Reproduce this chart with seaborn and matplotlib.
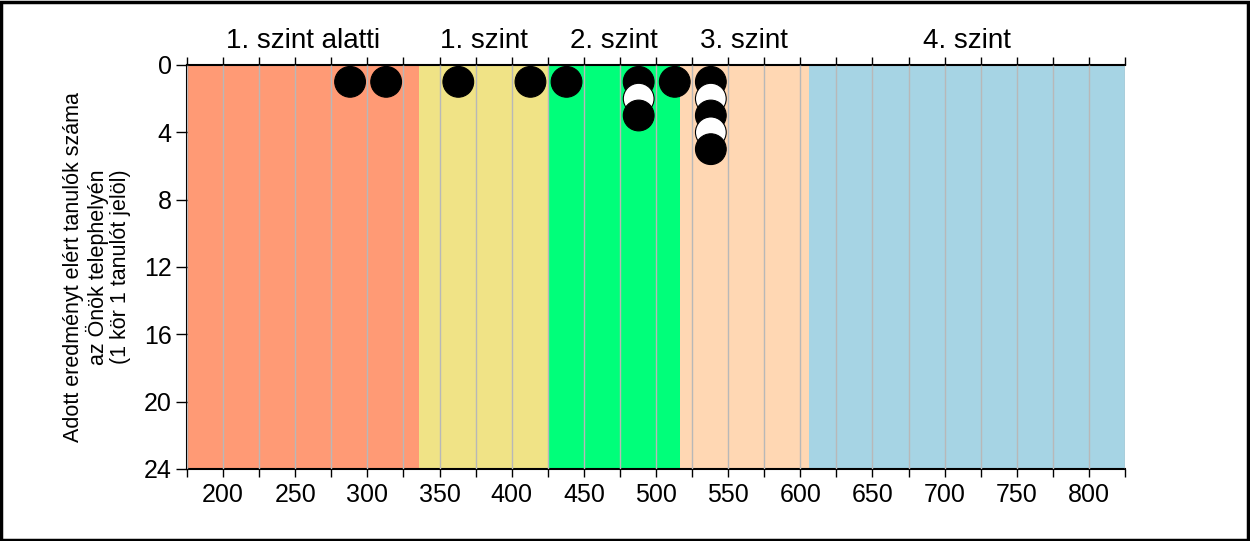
import matplotlib
matplotlib.use("Agg")
import matplotlib.pyplot as plt
import seaborn as sns
import pandas as pd
from matplotlib.ticker import MultipleLocator
from matplotlib.transforms import blended_transform_factory
from matplotlib.patches import Rectangle

# Data
point_x = [288, 313, 363, 413, 438, 488, 488, 488, 513, 538, 538, 538, 538, 538]
point_y = [1, 1, 1, 1, 1, 1, 2, 3, 1, 1, 2, 3, 4, 5]
point_fill = ["black", "black", "black", "black", "black", "black", "white", "black",
              "black", "black", "white", "black", "white", "black"]

band_labels = ["1. szint alatti", "1. szint", "2. szint", "3. szint", "4. szint"]
band_edges = [175, 335.5, 425.5, 516.5, 606, 825]
band_colors = ["#FF9A75", "#F0E386", "#00FF7A", "#FFD7B3", "#A6D4E4"]

ylabel = "Adott eredményt elért tanulók száma\naz Önök telephelyén\n(1 kör 1 tanulót jelöl)"

sns.set_theme(style="white")
plt.rcParams['font.family'] = ['Liberation Sans', 'DejaVu Sans']
plt.rcParams['text.color'] = 'black'
plt.rcParams['axes.labelcolor'] = 'black'
plt.rcParams['xtick.color'] = 'black'
plt.rcParams['ytick.color'] = 'black'

fig = plt.figure(figsize=(12.5, 5.41), dpi=100)
ax = fig.add_axes([187/1250, 1-469/541, (1125-187)/1250, (469-65)/541])

for i in range(len(band_labels)):
    ax.axvspan(band_edges[i], band_edges[i+1], color=band_colors[i], zorder=0, lw=0)

ax.set_xlim(175, 825)
ax.set_ylim(24, 0)
ax.xaxis.set_major_locator(MultipleLocator(50))
ax.xaxis.set_minor_locator(MultipleLocator(25))
ax.yaxis.set_major_locator(MultipleLocator(4))
ax.grid(True, which="both", axis="x", color="#B8B8B8", lw=1.0, zorder=1)
ax.set_axisbelow(False)

df = pd.DataFrame({"x": point_x, "y": point_y, "fill": point_fill})
sns.scatterplot(data=df, x="x", y="y", hue="fill",
                palette={"black": "black", "white": "white"},
                s=490, edgecolor="black", linewidth=0.8, legend=False,
                ax=ax, zorder=5, clip_on=False)

ax.set_xlabel("")
ax.set_ylabel(ylabel, fontsize=15.5, linespacing=1.1, labelpad=9, color="black")

for sp in ["left", "top", "bottom"]:
    ax.spines[sp].set_visible(True)
    ax.spines[sp].set_color("black")
    ax.spines[sp].set_linewidth(1.5)
ax.spines["right"].set_visible(False)

ax.tick_params(axis="x", which="both", bottom=True, top=True, direction="out",
               length=6, width=1, color="black", labelsize=18, pad=4,
               labelcolor="black")
ax.tick_params(axis="y", which="both", left=True, direction="out",
               length=8, width=1, color="black", labelsize=18, pad=3,
               labelcolor="black")

trans = blended_transform_factory(ax.transData, ax.transAxes)
for i, lab in enumerate(band_labels):
    ax.text((band_edges[i] + band_edges[i+1]) / 2, 1.06, lab, transform=trans,
            ha="center", va="center", fontsize=20, color="black")

fig.patches.append(Rectangle((0.001, 0.002), 0.997, 0.995, transform=fig.transFigure,
                             fill=False, edgecolor="black", lw=2.5))

fig.savefig("out.png", dpi=100)
